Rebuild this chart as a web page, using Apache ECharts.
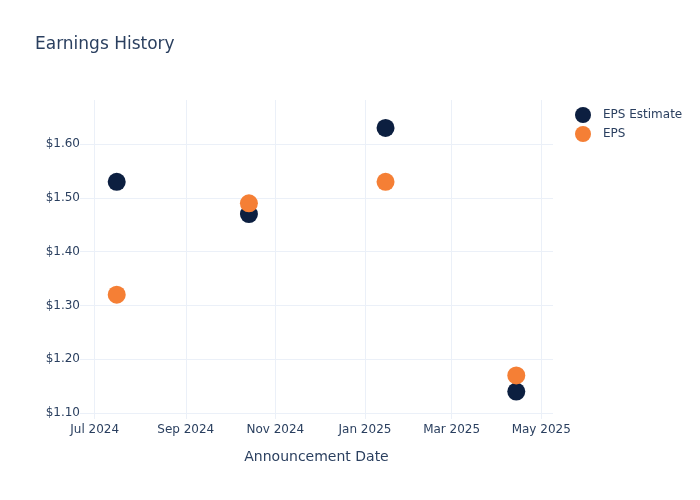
<!DOCTYPE html>
<html lang="en">
<head>
    <meta charset="UTF-8">
    <script src="https://cdn.jsdelivr.net/npm/echarts@6/dist/echarts.min.js"></script>
    <title>Earnings History</title>
</head>
<body style="margin:0">
<div id="main" style="width:700px;height:500px;"></div>
<script type="text/javascript">
    // announcement dates and eps values
    var dates = ['2024-07-16', '2024-10-14', '2025-01-15', '2025-04-14'];
    var eps_estimate = [1.53, 1.47, 1.63, 1.14];
    var eps_actual = [1.32, 1.49, 1.53, 1.17];
    var month_ticks = ['2024-07-01', '2024-09-01', '2024-11-01', '2025-01-01', '2025-03-01', '2025-05-01'];
    var y_ticks = [1.1, 1.2, 1.3, 1.4, 1.5, 1.6];

    var MONTHS = ['Jan', 'Feb', 'Mar', 'Apr', 'May', 'Jun', 'Jul', 'Aug', 'Sep', 'Oct', 'Nov', 'Dec'];
    function ts(s) {
        var p = s.split('-');
        return Date.UTC(+p[0], +p[1] - 1, +p[2]);
    }
    function pairs(vals) {
        var out = [];
        for (var i = 0; i < dates.length; i++) {
            out.push([ts(dates[i]), vals[i]]);
        }
        return out;
    }
    var x_ticks = month_ticks.map(ts);

    var myChart = echarts.init(document.getElementById('main'));
    var fontFamily = '"DejaVu Sans", Verdana, sans-serif';
    var textColor = '#2a3f5f';
    var gridColor = '#ebf0f8';

    var option = {
        backgroundColor: '#fff',
        textStyle: {fontFamily: fontFamily, color: textColor},
        title: {
            text: 'Earnings History',
            left: 35,
            top: 36,
            padding: 0,
            textStyle: {fontFamily: fontFamily, color: textColor, fontSize: 17, fontWeight: 'normal'}
        },
        legend: {
            orient: 'vertical',
            left: 575,
            top: 107,
            padding: 0,
            itemWidth: 16,
            itemHeight: 16,
            itemGap: 3,
            icon: 'circle',
            textStyle: {fontFamily: fontFamily, color: textColor, fontSize: 12, padding: [0, 0, 0, 7]},
            data: ['EPS Estimate', 'EPS']
        },
        grid: {left: 80, right: 147, top: 100, bottom: 81},
        xAxis: {
            // plain value axis holding timestamps, so the month ticks can be set by hand
            type: 'value',
            min: ts('2024-06-21'),
            max: ts('2025-05-09'),
            name: 'Announcement Date',
            nameLocation: 'middle',
            nameGap: 31,
            nameTextStyle: {fontFamily: fontFamily, color: textColor, fontSize: 14},
            axisLine: {show: false},
            axisTick: {show: false, customValues: x_ticks},
            axisLabel: {
                customValues: x_ticks,
                color: textColor,
                fontSize: 12,
                margin: 5,
                formatter: function (v) {
                    var d = new Date(v);
                    return MONTHS[d.getUTCMonth()] + ' ' + d.getUTCFullYear();
                }
            },
            splitLine: {show: true, lineStyle: {color: gridColor, width: 1}}
        },
        yAxis: {
            type: 'value',
            min: 1.089,
            max: 1.682,
            axisLine: {show: false},
            axisTick: {show: false, customValues: y_ticks},
            axisLabel: {
                customValues: y_ticks,
                color: textColor,
                fontSize: 12,
                margin: 0,
                formatter: function (v) { return '$' + v.toFixed(2); }
            },
            splitLine: {show: true, lineStyle: {color: gridColor, width: 1}}
        },
        series: [
            {
                name: 'EPS Estimate',
                type: 'scatter',
                symbolSize: 18,
                itemStyle: {color: '#0c1f40', opacity: 1},
                data: pairs(eps_estimate)
            },
            {
                name: 'EPS',
                type: 'scatter',
                symbolSize: 18,
                itemStyle: {color: '#f57f35', opacity: 1},
                data: pairs(eps_actual)
            }
        ]
    };
    myChart.setOption(option);
</script>
</body>
</html>
